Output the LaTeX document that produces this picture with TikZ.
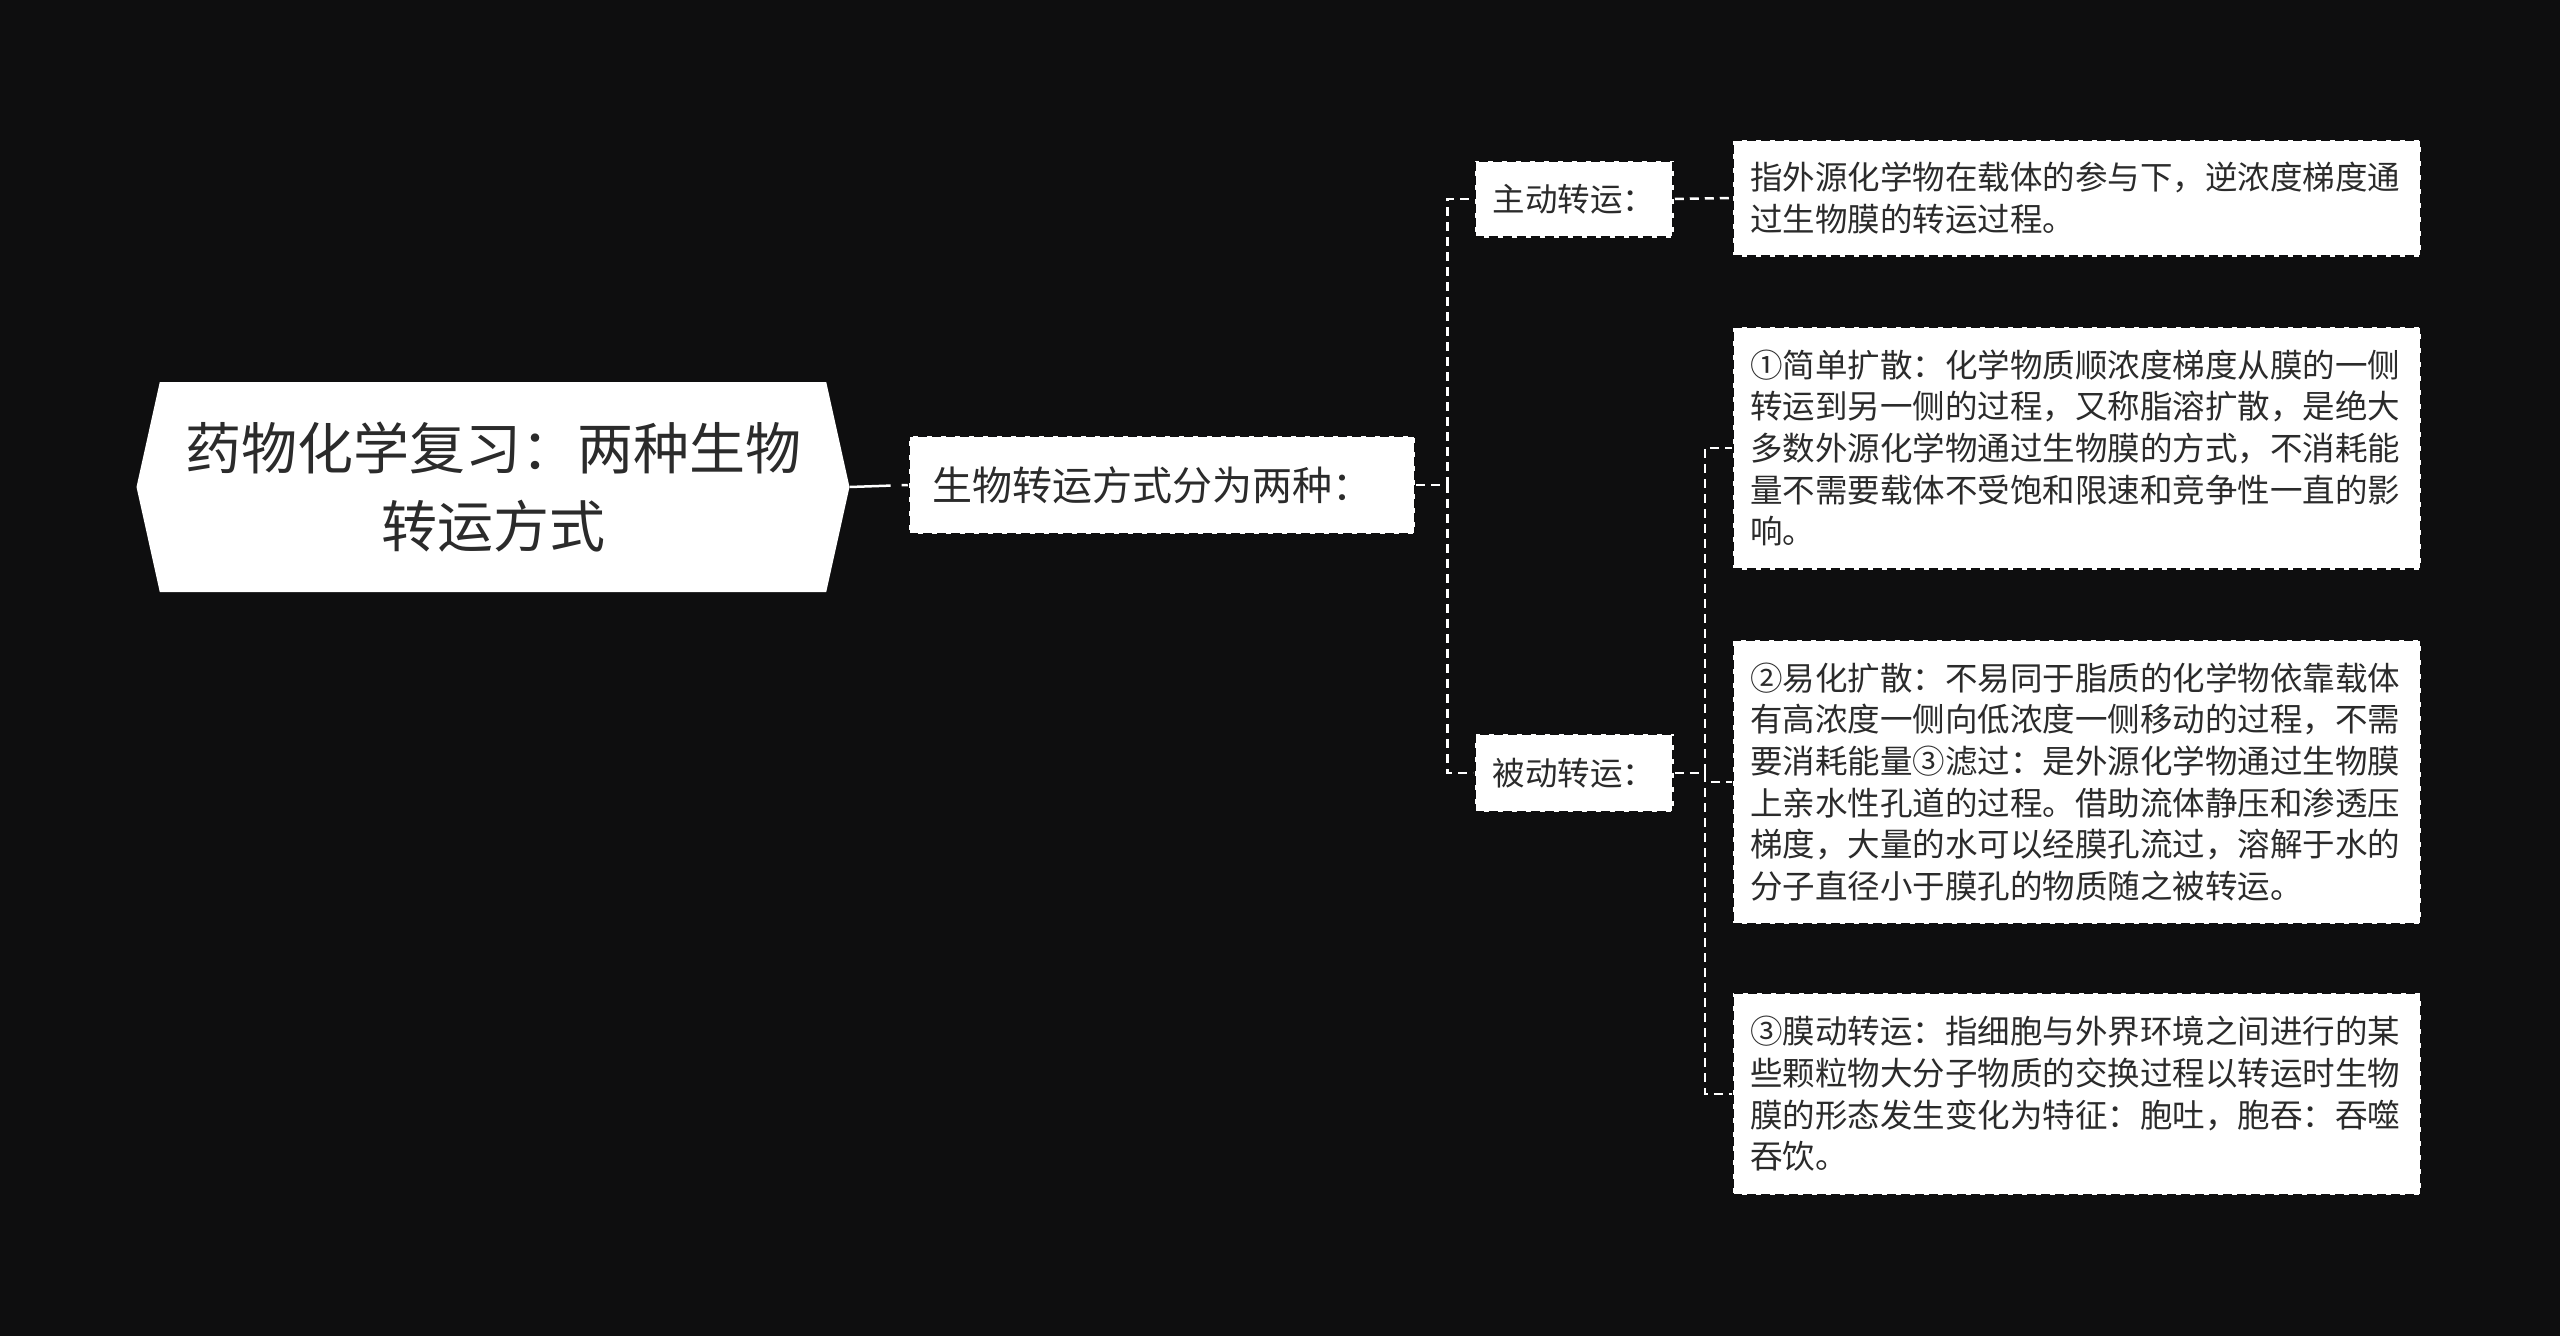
\documentclass[tikz,border=0pt]{standalone}
\usepackage{fontspec}
\setmainfont{Noto Sans CJK SC}
\usepackage{tikz}
\usetikzlibrary{shapes.symbols}

\definecolor{bg}{HTML}{0E0E0F}
\definecolor{ink}{HTML}{2B2B2B}

\begin{document}
\begin{tikzpicture}[
  x=1pt, y=-1pt,
  topic/.style={shape=signal, signal to=west and east, signal pointer angle=155,
    fill=white, text=ink, align=center, inner sep=0pt,
    minimum width=713pt, minimum height=210pt,
    font=\fontsize{56}{78}\selectfont},
  sub/.style={fill=white, draw=bg, line width=2.5pt, dash pattern=on 9pt off 5pt,
    text=ink, inner sep=0pt, align=center},
  leaf/.style={sub, align=left, text width=654pt, inner xsep=17pt,
    font=\fontsize{32.5}{41.7}\selectfont},
  conn/.style={draw=white, line width=2.5pt, dash pattern=on 9pt off 6pt}
]
\useasboundingbox[fill=bg] (0,0) rectangle (2560,1336);

% ---- root ----
\node[topic] (root) at (493,487) {药物化学复习：两种生物\\转运方式};

\node[sub, minimum width=506pt, minimum height=98pt, inner xsep=23pt,
  font=\fontsize{40}{48}\selectfont] (kinds) at (1162,485)
  {\makebox[460pt][l]{生物转运方式分为两种：}};

% ---- two branches ----
\node[sub, minimum width=199pt, minimum height=77pt,
  font=\fontsize{32.5}{40}\selectfont] (active) at (1574,199) {主动转运：};
\node[sub, minimum width=199pt, minimum height=78pt,
  font=\fontsize{32.5}{40}\selectfont] (passive) at (1574,773) {被动转运：};

% ---- leaves ----
\node[leaf, minimum height=117pt] (defact) at (2077,198)
  {指外源化学物在载体的参与下，逆浓度梯度通\\
   过生物膜的转运过程。};
\node[leaf, minimum height=243pt] (simple) at (2077,448)
  {①简单扩散：化学物质顺浓度梯度从膜的一侧\\
   转运到另一侧的过程，又称脂溶扩散，是绝大\\
   多数外源化学物通过生物膜的方式，不消耗能\\
   量不需要载体不受饱和限速和竞争性一直的影\\
   响。};
\node[leaf, minimum height=284pt] (facil) at (2077,782)
  {②易化扩散：不易同于脂质的化学物依靠载体\\
   有高浓度一侧向低浓度一侧移动的过程，不需\\
   要消耗能量③滤过：是外源化学物通过生物膜\\
   上亲水性孔道的过程。借助流体静压和渗透压\\
   梯度，大量的水可以经膜孔流过，溶解于水的\\
   分子直径小于膜孔的物质随之被转运。};
\node[leaf, minimum height=202pt] (membr) at (2077,1094)
  {③膜动转运：指细胞与外界环境之间进行的某\\
   些颗粒物大分子物质的交换过程以转运时生物\\
   膜的形态发生变化为特征：胞吐，胞吞：吞噬\\
   吞饮。};

% ---- connectors ----
\draw[conn, dash pattern=on 41pt off 11pt on 10pt off 20pt] (root.east) -- (kinds.west);
\draw[conn] (kinds.east) -- ++(31,0) |- (active.west);
\draw[conn] (kinds.east) -- ++(31,0) |- (passive.west);
\draw[conn] (active.east) -- (defact.west);
\draw[conn] (passive.east) -- ++(30,0) |- (simple.west);
\draw[conn] (passive.east) -- ++(30,0) |- (facil.west);
\draw[conn] (passive.east) -- ++(30,0) |- (membr.west);
\end{tikzpicture}
\end{document}
